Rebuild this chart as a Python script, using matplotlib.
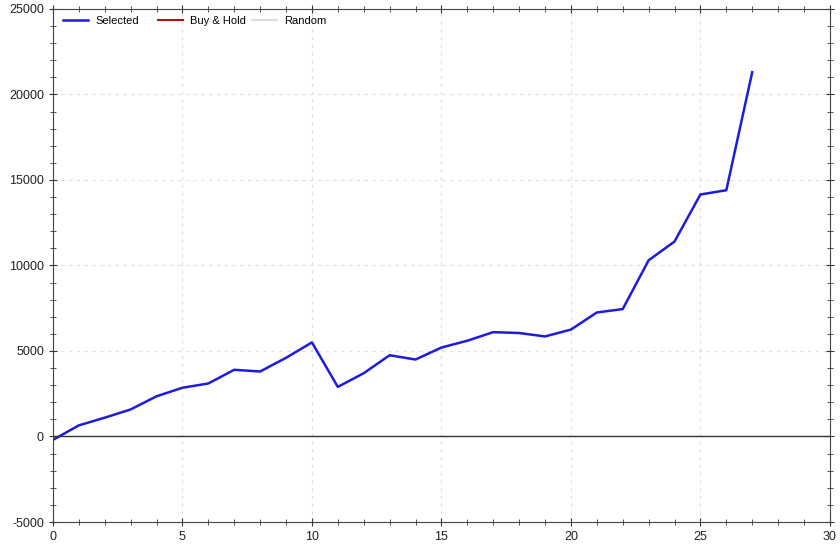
import matplotlib.pyplot as plt
from matplotlib.legend import Legend
from matplotlib.ticker import MultipleLocator

plt.rcParams['font.family'] = ['Liberation Sans', 'DejaVu Sans']
plt.rcParams['axes.unicode_minus'] = False

# equity curve
trades = list(range(28))
selected = [-200, 650, 1100, 1580, 2350, 2850, 3100, 3900, 3800, 4600,
            5500, 2900, 3700, 4750, 4500, 5200, 5600, 6100, 6050, 5850,
            6250, 7250, 7450, 10300, 11400, 14150, 14400, 21300]
buy_hold = []
random_curve = []

fig = plt.figure(figsize=(8.4, 5.47), dpi=100)
ax = fig.add_axes([0.063, 0.0457, 0.925, 0.938])

l1, = ax.plot(trades, selected, color='#1c1ce0', lw=1.8)
l2, = ax.plot(buy_hold, buy_hold, color='#b01010', lw=1.5)
l3, = ax.plot(random_curve, random_curve, color='#dddddd', lw=1.5)
ax.axhline(0, color='#333333', lw=1)

ax.set_xlim(0, 30)
ax.set_ylim(-5000, 25000)
ax.xaxis.set_major_locator(MultipleLocator(5))
ax.xaxis.set_minor_locator(MultipleLocator(1))
ax.yaxis.set_major_locator(MultipleLocator(5000))
ax.yaxis.set_minor_locator(MultipleLocator(1000))
ax.tick_params(which='both', direction='inout', top=True, right=True,
               labeltop=False, labelright=False, colors='#333333',
               labelsize=9, labelcolor='#222222')
ax.tick_params(which='major', length=6)
ax.tick_params(which='minor', length=4)
ax.grid(True, which='major', ls=(0, (3, 4)), color='#dedede', lw=0.8)
for s in ax.spines.values():
    s.set_color('#444444')

# legend entries sit in equal-width slots
names = ['Selected', 'Buy & Hold', 'Random']
for line, name, xpos in zip([l1, l2, l3], names, [0.0129, 0.135, 0.256]):
    leg = Legend(ax, [line], [name], loc='center left', bbox_to_anchor=(xpos, 0.977),
                 frameon=False, fontsize=8, handlelength=2.3,
                 handletextpad=0.6, borderaxespad=0, borderpad=0)
    ax.add_artist(leg)

fig.savefig('out.png', dpi=100)
